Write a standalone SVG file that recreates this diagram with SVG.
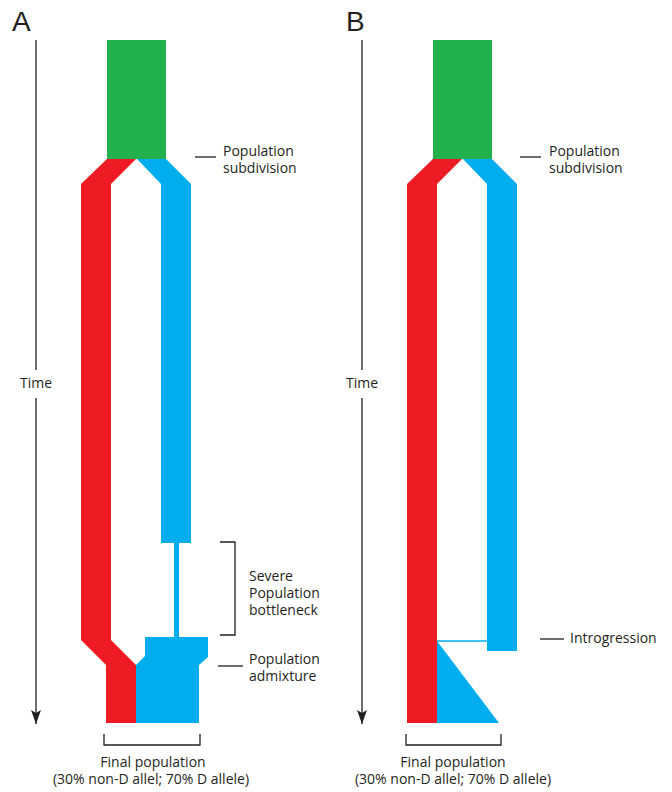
<svg xmlns="http://www.w3.org/2000/svg" width="672" height="792" viewBox="0 0 672 792">
<defs>
<style>
.g{fill:#23b14d}.r{fill:#ed1c24}.b{fill:#00aeef}
.t{font-family:"Open Sans","Liberation Sans",sans-serif;font-size:14px;fill:#231f20}
.c{text-anchor:middle}
.big{font-family:"Liberation Sans","Open Sans",sans-serif;font-size:28px;fill:#231f20}
.ln{stroke:#231f20;stroke-width:1.3;fill:none}
</style>
<marker id="ah" viewBox="0 0 14 10" refX="14" refY="5" markerWidth="14" markerHeight="10" markerUnits="userSpaceOnUse" orient="auto">
<path d="M0,0 L3,5 L0,10 L14,5 Z" fill="#231f20"/>
</marker>
</defs>
<rect width="672" height="792" fill="#fff"/>
<g id="panelA">
<text class="big" x="12" y="31">A</text>
<g id="A-time">
<line class="ln" x1="36" y1="40" x2="36" y2="370"/>
<line class="ln" x1="36" y1="398" x2="36" y2="724" marker-end="url(#ah)"/>
<text class="t c" x="36" y="388">Time</text>
</g>
<g id="A-ancestral"><rect class="g" x="107" y="40" width="59" height="119"/></g>
<g id="A-red"><polygon class="r" points="107,159 136,159 111,184 111,640 136,665 136,723 106,723 106,665 81,640 81,184"/></g>
<g id="A-blue"><polygon class="b" points="137,159 166,159 191,184 191,543 161,543 161,184"/>
<rect class="b" x="174" y="543" width="5" height="95"/>
<polygon class="b" points="145,637 208,637 208,657 199,665 199,723 136,723 136,665 145,656"/></g>
<g id="A-subdivision-label">
<line class="ln" x1="195" y1="157" x2="216" y2="157"/>
<text class="t" x="223" y="156">Population</text>
<text class="t" x="223" y="173">subdivision</text>
</g>
<g id="A-bottleneck-label">
<polyline class="ln" points="220,542 235,542 235,635 220,635"/>
<text class="t" x="249" y="581">Severe</text>
<text class="t" x="249" y="598">Population</text>
<text class="t" x="249" y="615">bottleneck</text>
</g>
<g id="A-admixture-label">
<line class="ln" x1="218" y1="666" x2="243" y2="666"/>
<text class="t" x="249" y="664">Population</text>
<text class="t" x="249" y="681">admixture</text>
</g>
<g id="A-final">
<polyline class="ln" points="104,734 104,745 200,745 200,734"/>
<text class="t c" x="153" y="767">Final population</text>
<text class="t c" x="151" y="784">(30% non-D allel; 70% D allele)</text>
</g>
</g>
<g id="panelB">
<text class="big" x="346" y="31">B</text>
<g id="B-time">
<line class="ln" x1="362" y1="40" x2="362" y2="370"/>
<line class="ln" x1="362" y1="398" x2="362" y2="724" marker-end="url(#ah)"/>
<text class="t c" x="362" y="388">Time</text>
</g>
<g id="B-ancestral"><rect class="g" x="433" y="40" width="59" height="119"/></g>
<g id="B-red"><polygon class="r" points="433,159 462,159 437,184 437,723 407,723 407,184"/></g>
<g id="B-blue"><polygon class="b" points="463,159 492,159 517,184 517,651 487,651 487,184"/></g>
<g id="B-introgression">
<line x1="437" y1="641" x2="487" y2="641" stroke="#00aeef" stroke-width="1.6"/>
<polygon class="b" points="437,641 499,723 437,723"/>
</g>
<g id="B-subdivision-label">
<line class="ln" x1="520" y1="157" x2="541" y2="157"/>
<text class="t" x="549" y="156">Population</text>
<text class="t" x="549" y="173">subdivision</text>
</g>
<g id="B-introgression-label">
<line class="ln" x1="540" y1="639" x2="564" y2="639"/>
<text class="t" x="570" y="643">Introgression</text>
</g>
<g id="B-final">
<polyline class="ln" points="406,734 406,745 501,745 501,734"/>
<text class="t c" x="453" y="767">Final population</text>
<text class="t c" x="453" y="784">(30% non-D allel; 70% D allele)</text>
</g>
</g>
</svg>
